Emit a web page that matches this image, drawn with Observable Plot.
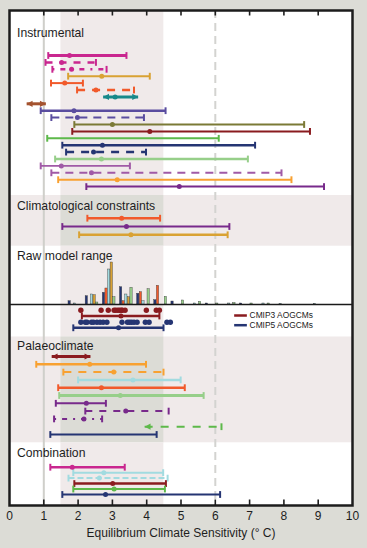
<!DOCTYPE html>
<html><head><meta charset="utf-8">
<script src="https://cdn.jsdelivr.net/npm/d3@7"></script>
<script src="https://cdn.jsdelivr.net/npm/@observablehq/plot@0.6"></script>
<style>
html,body{margin:0;padding:0;background:#dcdcd6;}
#chart svg{display:block;}
</style></head><body><div id="chart"></div>
<script>
// ---------------- data ----------------
const xTicks = [0,1,2,3,4,5,6,7,8,9,10];
const innerTicks = [1,2,3,4,5,6,7,8,9];
const xLabel = "Equilibrium Climate Sensitivity (° C)";
const sectionTitles = ["Instrumental","Climatological constraints","Raw model range","Palaeoclimate","Combination"];
const likelyRange = [1.5, 4.5];
const refLines = [1, 6];

const instrumentalLow  = [1.13,1.05,1.25,1.71,1.21,1.97,2.73,0.50,0.91,1.22,1.89,1.83,1.10,1.54,1.65,1.33,0.91,1.22,1.42,2.24];
const instrumentalBest = [1.75,1.52,1.81,2.69,1.61,2.52,3.08,null,1.88,1.98,3.00,4.09,null,2.71,2.45,2.68,1.51,2.39,3.14,4.95];
const instrumentalHigh = [3.41,2.52,2.83,4.09,2.14,3.63,3.75,1.06,4.55,3.92,8.59,8.76,6.10,7.16,3.98,6.95,3.51,7.93,8.22,9.17];

const climatologicalLow  = [2.27,1.54,2.03];
const climatologicalBest = [3.27,3.41,3.54];
const climatologicalHigh = [4.39,6.41,6.36];

const palaeoLow  = [1.23,0.78,1.57,2.00,1.42,1.45,1.35,2.21,1.30,3.94,1.19];
const palaeoBest = [null,2.34,3.04,3.60,2.68,3.23,2.24,3.39,2.17,null,null];
const palaeoHigh = [2.36,3.98,4.49,4.99,5.11,5.66,2.81,4.64,2.70,6.18,4.29];

const combinationLow  = [1.19,1.86,1.72,1.89,1.86,1.54];
const combinationBest = [1.83,2.75,2.62,3.01,3.05,2.80];
const combinationHigh = [3.36,4.48,4.61,4.56,4.53,6.14];

const cmip3Models = [2.08,2.67,2.88,3.05,3.10,3.16,3.21,3.26,3.29,3.37,3.99,4.28,4.37];
const cmip5Models = [2.08,2.21,2.26,2.39,2.45,2.55,2.64,2.73,2.84,3.28,3.44,3.50,3.56,3.63,3.72,3.96,4.07,4.59,4.69];
const cmip3Range = [2.11,3.25,4.37];
const cmip5Range = [1.86,3.18,4.49];
const legendNames = ["CMIP3 AOGCMs","CMIP5 AOGCMs"];

// raw model histogram (relative frequency, %), bins starting at these ECS values
const histBins = [1.72,2.22,2.72,3.22,3.72,4.22,4.72,5.22,5.72,6.22,6.72,7.22,7.72,8.22,8.72];
const histNavy  = [3.3,8.3,11.7,17.3,10.7,4.3,3.0,0,1.0,0,1.0,0,0,0,0];
const histRed   = [0,0,16,3.3,12.3,18.7,0,0,0,0,0,0,0,0,0];
const histBlue  = [1.0,10,35,10,3.3,0,0,1.0,0,1.0,0,1.0,0.7,0,0.7];
const histGold  = [0,9.3,42,7.3,0,0,0,0,0,0,0,0,0,0,0];
const histGreen = [0,2.0,7.3,16.7,15.3,7.7,4.0,2.7,1.0,1.5,1.0,1.0,0,0,0];

// ---------------- styles / layout ----------------
const C = {magenta:"#c9278f", gold:"#d9a233", orange:"#f15a2b", teal:"#17898a", brown:"#a4532f",
  indigo:"#5a4d9f", olive:"#7b7a36", darkred:"#8a1b1f", green:"#5db94a", navy:"#253573",
  lightgreen:"#97cf8a", lilac:"#a05aa6", lightorange:"#f8a131", purple:"#782a8b", cyan:"#a2dbe0"};
const dotted = "2,6,5,6";
const instrumentalStyle = [
  ["magenta",3,null,"cap"],["magenta",2.5,"7,7","cap"],["magenta",2.5,dotted,"cap"],
  ["gold",2,null,"cap"],["orange",2,null,"cap"],["orange",2.5,"8,7","cap"],
  ["teal",3,null,"both"],["brown",3,null,"both"],["indigo",2.5,null,"cap"],
  ["indigo",2,"8,6","cap"],["olive",2,null,"cap"],["darkred",2,null,"cap"],
  ["green",2,null,"cap"],["navy",2.5,null,"cap"],["navy",2.5,"8,7","cap"],
  ["lightgreen",2.5,null,"cap"],["lilac",1.8,null,"cap"],["lilac",2,"8,6","cap"],
  ["lightorange",2,null,"cap"],["purple",2,null,"cap"]];
const climatologicalStyle = [["orange",2.5,null,"cap"],["purple",2,null,"cap"],["gold",2.5,null,"cap"]];
const palaeoStyle = [
  ["darkred",3,null,"both"],["lightorange",2.5,null,"cap"],["lightorange",2,"8,7","cap"],
  ["cyan",2.5,null,"cap"],["orange",2.5,null,"cap"],["lightgreen",3,null,"cap"],
  ["purple",2,null,"cap"],["purple",2,"7,7","cap"],["purple",2,dotted,"cap"],
  ["green",2,"8,8","left"],["navy",2,null,"cap"]];
const combinationStyle = [["magenta",2.5,null,"cap"],["cyan",2,null,"cap"],["cyan",2,"6,3","cap"],
  ["darkred",2.5,null,"cap"],["green",2,null,"cap"],["navy",1.8,null,"cap"]];

// vertical layout in pixel-like units (0 = top of frame)
const L = {
  total: 495,
  tickLen: 5.5,
  instrumental: {y0: 45, step: 6.9, title: 23},
  climatological: {y0: 207.7, step: 8.3, title: 196, band: [185, 235.7]},
  raw: {title: 245.7, base: 294, dots3: 299.7, bar3: 305.5, dots5: 311.7, bar5: 317.3},
  palaeo: {y0: 346, step: 7.8, title: 335.7, band: [326.5, 432.3]},
  combination: {y0: 456.7, step: 5.46, title: 442.3},
  legend: {x1: 6.55, x2: 6.92, xt: 7.0, y: [305, 314.7]},
  slot: 0.076,
  xLabelY: 523
};

function buildRows(low, best, high, style, cfg) {
  return low.map((lo, i) => ({
    lo, best: best[i], hi: high[i], y: cfg.y0 + i * cfg.step,
    color: C[style[i][0]], w: style[i][1], dash: style[i][2], ends: style[i][3]
  }));
}
const rows = [
  ...buildRows(instrumentalLow, instrumentalBest, instrumentalHigh, instrumentalStyle, L.instrumental),
  ...buildRows(climatologicalLow, climatologicalBest, climatologicalHigh, climatologicalStyle, L.climatological),
  ...buildRows(palaeoLow, palaeoBest, palaeoHigh, palaeoStyle, L.palaeo),
  ...buildRows(combinationLow, combinationBest, combinationHigh, combinationStyle, L.combination),
  {lo: cmip3Range[0], best: cmip3Range[1], hi: cmip3Range[2], y: L.raw.bar3, color: C.darkred, w: 2.5, dash: null, ends: "cap"},
  {lo: cmip5Range[0], best: cmip5Range[1], hi: cmip5Range[2], y: L.raw.bar5, color: C.navy, w: 2.5, dash: null, ends: "cap"}
];

const histSeries = [[histNavy, C.navy],[histRed, C.orange],[histBlue, C.cyan],[histGold, C.gold],[histGreen, C.lightgreen]];
const histData = [];
histSeries.forEach(([vals, color], s) => vals.forEach((v, k) => {
  if (v > 0) histData.push({x1: histBins[k] + s * L.slot, x2: histBins[k] + s * L.slot + L.slot * 0.88, h: v, color});
}));

const titleYs = [L.instrumental.title, L.climatological.title, L.raw.title, L.palaeo.title, L.combination.title];
const titles = sectionTitles.map((t, i) => ({t, y: titleYs[i]}));

const bandSegments = [
  {y1: 0, y2: L.climatological.band[0], fill: "#f0eaea"},
  {y1: L.climatological.band[0], y2: L.climatological.band[1], fill: "#dcdcd6"},
  {y1: L.climatological.band[1], y2: L.palaeo.band[0], fill: "#f0eaea"},
  {y1: L.palaeo.band[0], y2: L.palaeo.band[1], fill: "#dcdcd6"},
  {y1: L.palaeo.band[1], y2: L.total, fill: "#f0eaea"}
];
const shadedSections = [L.climatological.band, L.palaeo.band].map(([a, b]) => ({y1: a, y2: b}));

// custom symbols
const capSym = {draw(ctx, size) { const r = Math.sqrt(size / Math.PI); ctx.moveTo(0, -r); ctx.lineTo(0, r); }};
const arrowL = {draw(ctx, size) { const r = Math.sqrt(size / Math.PI); ctx.moveTo(0, 0); ctx.lineTo(r * 1.9, -r); ctx.lineTo(r * 1.9, r); ctx.closePath(); }};
const arrowR = {draw(ctx, size) { const r = Math.sqrt(size / Math.PI); ctx.moveTo(0, 0); ctx.lineTo(-r * 1.9, -r); ctx.lineTo(-r * 1.9, r); ctx.closePath(); }};

const capsLeft = rows.filter(r => r.ends === "cap");
const capsRight = rows.filter(r => r.ends === "cap" || r.ends === "left");
const arrowsLeft = rows.filter(r => r.ends === "both" || r.ends === "left");
const arrowsRight = rows.filter(r => r.ends === "both");
const dashes = [...new Set(rows.map(r => r.dash))];

const legendRows = legendNames.map((n, i) => ({n, y: L.legend.y[i], color: i === 0 ? C.darkred : C.navy}));

const marks = [
  Plot.frame({fill: "white", stroke: "none"}),
  Plot.rect(shadedSections, {x1: 0, x2: 10, y1: "y1", y2: "y2", fill: "#f0eaea"}),
  Plot.rect(bandSegments, {x1: likelyRange[0], x2: likelyRange[1], y1: "y1", y2: "y2", fill: "fill"}),
  Plot.ruleX([refLines[0]], {stroke: "#cfcfca", strokeWidth: 2}),
  Plot.ruleX([refLines[1]], {stroke: "#d3d3d0", strokeWidth: 2, strokeDasharray: "8,5"}),
  Plot.rect(histData, {x1: "x1", x2: "x2", y1: L.raw.base, y2: d => L.raw.base - d.h, fill: "color", stroke: "#3a3a3a", strokeWidth: 0.4}),
  Plot.ruleY([L.raw.base], {stroke: "#1a1a1a", strokeWidth: 1.5}),
  ...dashes.map(d => Plot.link(rows.filter(r => r.dash === d), {
    x1: "lo", x2: "hi", y1: "y", y2: "y", stroke: "color", strokeWidth: "w",
    strokeDasharray: d || undefined
  })),
  Plot.dot(capsLeft, {x: "lo", y: "y", symbol: capSym, r: 3.4, stroke: "color", strokeWidth: 2, fill: "none"}),
  Plot.dot(capsRight, {x: "hi", y: "y", symbol: capSym, r: 3.4, stroke: "color", strokeWidth: 2, fill: "none"}),
  Plot.dot(arrowsLeft, {x: "lo", y: "y", symbol: arrowL, r: 3.1, fill: "color", stroke: "none"}),
  Plot.dot(arrowsRight, {x: "hi", y: "y", symbol: arrowR, r: 3.1, fill: "color", stroke: "none"}),
  Plot.dot(rows.filter(r => r.best != null), {x: "best", y: "y", r: 2.5, fill: "color", stroke: "none"}),
  Plot.dot(cmip3Models, {x: d => d, y: L.raw.dots3, r: 2.7, fill: C.darkred, stroke: "none"}),
  Plot.dot(cmip5Models, {x: d => d, y: L.raw.dots5, r: 2.7, fill: C.navy, stroke: "none"}),
  Plot.link(legendRows, {x1: L.legend.x1, x2: L.legend.x2, y1: "y", y2: "y", stroke: "color", strokeWidth: 2.5}),
  Plot.text(legendRows, {x: L.legend.xt, y: "y", text: "n", textAnchor: "start", fontSize: 8.4, fill: "#222", lineAnchor: "middle"}),
  Plot.text(titles, {x: 0, y: "y", text: "t", textAnchor: "start", dx: 7.5, fontSize: 12.2, fill: "#1e1e1e", lineAnchor: "middle"}),
  // inward ticks on top and bottom edges of the frame
  Plot.ruleX(innerTicks, {x: d => d, y1: 0, y2: L.tickLen, stroke: "#1e1e1e", strokeWidth: 1.6}),
  Plot.ruleX(innerTicks, {x: d => d, y1: L.total - L.tickLen, y2: L.total, stroke: "#1e1e1e", strokeWidth: 1.6}),
  Plot.axisX({anchor: "bottom", ticks: xTicks, tickSize: 0, tickPadding: 6, tickFormat: d => String(d), label: null, fontSize: 12, fill: "#1e1e1e"}),
  Plot.text([xLabel], {x: 5, y: L.xLabelY, text: d => d, fontSize: 12, fill: "#1e1e1e", lineAnchor: "middle"}),
  Plot.frame({stroke: "#1c1c1c", strokeWidth: 2.5})
];

const chart = Plot.plot({
  width: 367, height: 548,
  marginLeft: 9, marginRight: 15, marginTop: 10, marginBottom: 43,
  x: {domain: [0, 10]},
  y: {domain: [0, L.total], range: [10, 505], axis: null},
  color: {type: "identity"},
  style: {background: "#dcdcd6", fontFamily: "'Liberation Sans', Arial, sans-serif", fontSize: "12px"},
  marks
});
document.getElementById("chart").appendChild(chart);
</script></body></html>
